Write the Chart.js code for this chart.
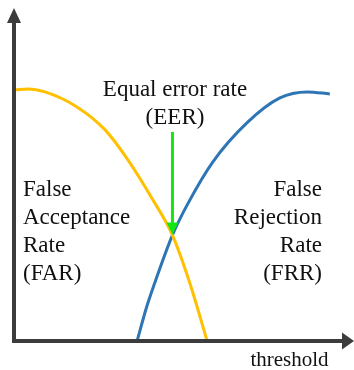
<!DOCTYPE html>
<html>
<head>
<meta charset="utf-8">
<script src="https://cdn.jsdelivr.net/npm/chart.js@4/dist/chart.umd.min.js"></script>
<style>
  html, body { margin: 0; padding: 0; background: #ffffff; }
  #wrap { width: 354px; height: 370px; }
</style>
</head>
<body>
<div id="wrap"><canvas id="c" width="354" height="370"></canvas></div>
<script>
// threshold (x, 0-100) and rate (y, 0-100) readings
const farX = [0.3, 4.1, 9.1, 18.5, 26.8, 33.5, 40.6, 46.6, 51.8, 56.8];
const farY = [75.4, 75.7, 74.8, 70.3, 63.4, 54.4, 42.8, 31.8, 17.1, 0];
const frrX = [36.2, 39.1, 42.1, 46.6, 50.9, 58.5, 68.5, 78.2, 86.2, 92.9];
const frrY = [0, 10.5, 19.5, 31.8, 40.8, 53.8, 65.5, 73.0, 74.8, 74.2];
const eerPoint = [46.6, 32.0];
const eerArrowFrom = 62.8;
const titleLines = ['Equal error rate', '(EER)'];
const farLines = ['False', 'Acceptance', 'Rate', '(FAR)'];
const frrLines = ['False', 'Rejection', 'Rate', '(FRR)'];
const xAxisLabel = 'threshold';

const pts = (xs, ys) => xs.map((x, i) => ({ x: x, y: ys[i] }));

const AXIS = '#3c3c3c';
const SERIF = '"Liberation Serif", "Times New Roman", serif';

const overlay = {
  id: 'overlay',
  afterDatasetsDraw(chart) {
    const ctx = chart.ctx;
    const xs = chart.scales.x, ys = chart.scales.y;
    const ca = chart.chartArea;
    ctx.save();
    // axes
    const ox = ca.left, oy = ca.bottom;
    ctx.strokeStyle = AXIS;
    ctx.fillStyle = AXIS;
    ctx.lineWidth = 4;
    ctx.lineCap = 'butt';
    ctx.beginPath();
    ctx.moveTo(ox, oy + 2);
    ctx.lineTo(ox, ca.top + 13);
    ctx.moveTo(ox - 2, oy);
    ctx.lineTo(ca.right - 11, oy);
    ctx.stroke();
    // arrow heads
    ctx.beginPath();
    ctx.moveTo(ox, ca.top);
    ctx.lineTo(ox - 7, ca.top + 15);
    ctx.lineTo(ox + 7, ca.top + 15);
    ctx.closePath();
    ctx.fill();
    ctx.beginPath();
    ctx.moveTo(ca.right, oy);
    ctx.lineTo(ca.right - 12, oy - 8.5);
    ctx.lineTo(ca.right - 12, oy + 8.5);
    ctx.closePath();
    ctx.fill();

    // EER arrow
    const ax = xs.getPixelForValue(eerPoint[0]);
    const ay0 = ys.getPixelForValue(eerArrowFrom);
    const ay1 = ys.getPixelForValue(eerPoint[1]);
    ctx.strokeStyle = '#14e614';
    ctx.fillStyle = '#14e614';
    ctx.lineWidth = 3;
    ctx.beginPath();
    ctx.moveTo(ax, ay0);
    ctx.lineTo(ax, ay1 - 10);
    ctx.stroke();
    ctx.beginPath();
    ctx.moveTo(ax, ay1);
    ctx.lineTo(ax - 6, ay1 - 12);
    ctx.lineTo(ax + 6, ay1 - 12);
    ctx.closePath();
    ctx.fill();

    // texts
    ctx.fillStyle = '#111111';
    ctx.textBaseline = 'alphabetic';
    ctx.font = '23px ' + SERIF;
    ctx.textAlign = 'center';
    titleLines.forEach((t, i) => ctx.fillText(t, 175, 96 + i * 28));
    ctx.textAlign = 'left';
    farLines.forEach((t, i) => ctx.fillText(t, 23, 196 + i * 28));
    ctx.textAlign = 'right';
    frrLines.forEach((t, i) => ctx.fillText(t, 322, 196 + i * 28));
    ctx.font = '21px ' + SERIF;
    ctx.textAlign = 'center';
    ctx.fillText(xAxisLabel, 289.5, 366);
    ctx.restore();
  }
};

new Chart(document.getElementById('c'), {
  type: 'scatter',
  data: {
    datasets: [
      {
        label: 'FAR',
        data: pts(farX, farY),
        showLine: true,
        borderColor: '#FFC000',
        borderWidth: 3,
        pointRadius: 0,
        cubicInterpolationMode: 'monotone',
        fill: false
      },
      {
        label: 'FRR',
        data: pts(frrX, frrY),
        showLine: true,
        borderColor: '#2E75B6',
        borderWidth: 3,
        pointRadius: 0,
        cubicInterpolationMode: 'monotone',
        fill: false
      }
    ]
  },
  options: {
    responsive: false,
    animation: false,
    devicePixelRatio: 1,
    layout: { padding: { left: 14, right: 0, top: 8, bottom: 29 } },
    plugins: { legend: { display: false }, tooltip: { enabled: false }, title: { display: false } },
    scales: {
      x: { type: 'linear', min: 0, max: 100, display: false },
      y: { type: 'linear', min: 0, max: 100, display: false }
    }
  },
  plugins: [overlay]
});
</script>
</body>
</html>
